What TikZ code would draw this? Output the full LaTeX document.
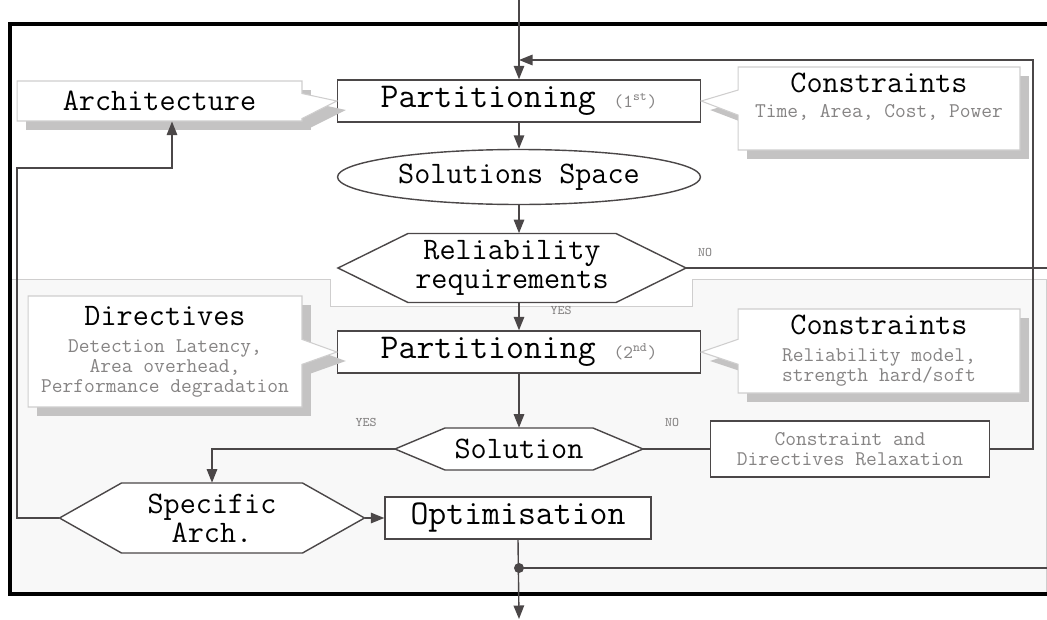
\documentclass[tikz,border=0pt]{standalone}
\usepackage{fontspec}
\newcommand*{\flowfont}{\ttfamily\fontsize{19.8}{21}\selectfont}
\newcommand*{\labelfont}{\ttfamily\fontsize{17.8}{16.5}\selectfont}
\newcommand*{\notefont}{\ttfamily\fontsize{11.9}{11.4}\selectfont}
\newcommand*{\ordfont}{\ttfamily\fontsize{10.5}{11}\selectfont}
\newcommand*{\tinyfont}{\ttfamily\fontsize{7.5}{8}\selectfont}
\newcommand*{\notetext}[1]{{\notefont\color{textgrey}#1}}
\definecolor{regiongrey}{cmyk}{0.00,0.00,0.00,0.03}
\definecolor{edgegrey}{cmyk}{0.00,0.00,0.00,0.22}
\definecolor{shadowgrey}{cmyk}{0.00,0.00,0.00,0.27}
\definecolor{textgrey}{cmyk}{0.00,0.00,0.00,0.55}
\definecolor{linegrey}{cmyk}{0.00,0.00,0.00,0.82}
\usetikzlibrary{arrows.meta}
\usetikzlibrary{shapes.geometric}
\usetikzlibrary{shapes.callouts}
\usetikzlibrary{shadows}
\tikzstyle{flowline}=[draw=linegrey, line width=0.8pt]
\tikzstyle{flowarrow}=[flowline, -{Triangle[length=0.27cm, width=0.21cm]}]
\tikzstyle{flowbox}=[flowline, fill=white, inner sep=0pt, minimum width=7.26cm, minimum height=0.84cm, font=\flowfont]
\tikzstyle{callbox}=[rectangle callout, draw=edgegrey, line width=0.6pt, fill=white, inner sep=0pt, callout pointer width=0.5cm, align=center, font=\notefont, drop shadow={shadow xshift=0.18cm, shadow yshift=-0.18cm, fill=shadowgrey, opacity=1}]
\tikzstyle{hextext}=[inner sep=0pt, align=center, font=\labelfont]
\tikzstyle{answer}=[inner sep=0pt, text=textgrey, font=\tinyfont]
\newcommand*{\hexnode}[6]{%
    \draw[flowline, fill=white] #2 ++(-#3,0) -- ++(#5,-#4) -- ++(2*#3-2*#5,0) -- ++(#5,#4) -- ++(-#5,#4) -- ++(-2*#3+2*#5,0) -- cycle;
    \node[hextext, minimum width=#3*0.04cm, minimum height=#4*0.04cm] (#1) at #2 {#6};}

\begin{document}
\begin{tikzpicture}[x=0.02cm, y=-0.02cm]
    \useasboundingbox (0,0) rectangle (1047,619);
    \draw[edgegrey, fill=regiongrey] (10,279) -- (330,279) -- (330,306) -- (692,306) -- (692,279) -- (1046,279) -- (1046,594) -- (10,594) -- cycle;
    \draw[line width=1.8pt] (1047,24) -- (10,24) -- (10,594) -- (1047,594);

    \coordinate (in) at (519,0);
    \coordinate (out) at (519,619);
    \coordinate (loop) at (1033,60);
    \coordinate (back1) at (17,168);
    \coordinate (back2) at (172,168);
    \coordinate (dot) at (519,568);
    \coordinate (noend) at (1047,268);
    \coordinate (fbend) at (1047,568);

    \node[flowbox] (part1) at (519,101) {Partitioning\hspace{0.36cm}{\ordfont\color{textgrey}(1\textsuperscript{st})}};
    \node[flowbox, ellipse, font=\labelfont, minimum height=1.1cm] (space) at (519,177) {Solutions Space};
    \hexnode{rel}{(512,268)}{174}{34.5}{70}{Reliability\\requirements}
    \node[flowbox] (part2) at (519,352) {Partitioning\hspace{0.36cm}{\ordfont\color{textgrey}(2\textsuperscript{nd})}};
    \hexnode{sol}{(519,449)}{124}{21}{50}{Solution}
    \node[flowbox, minimum width=5.58cm, minimum height=1.12cm, font=\notefont, text=textgrey, align=center] (relax) at (850,449) {Constraint and\\Directives Relaxation};
    \hexnode{spec}{(212,518)}{152.5}{35}{62}{Specific\\Arch.}
    \node[flowbox, minimum width=5.32cm] (optim) at (518,518) {Optimisation};

    \node[callbox, font=\labelfont, minimum width=5.7cm, minimum height=0.8cm, callout absolute pointer={(part1.west)}] (arch) at (159.5,101) {Architecture};
    \node[callbox, minimum width=5.64cm, minimum height=1.66cm, callout absolute pointer={(part1.east)}] (cons1) at (879,108.5) {};
    \node[hextext, font=\notefont] (cons1txt) at (879,97) {{\labelfont Constraints}\\[3pt]\notetext{Time, Area, Cost, Power}};
    \node[callbox, minimum width=5.48cm, minimum height=2.22cm, callout absolute pointer={(part2.west)}] (dirs) at (165,351.5) {{\labelfont Directives}\\[4pt]\notetext{Detection Latency,}\\\notetext{Area overhead,}\\\notetext{Performance degradation}};
    \node[callbox, minimum width=5.64cm, minimum height=1.68cm, callout absolute pointer={(part2.east)}] (cons2) at (879,351) {{\labelfont Constraints}\\[4pt]\notetext{Reliability model,}\\\notetext{strength hard/soft}};

    \node[answer] (no1) at (705,252) {NO};
    \node[answer] (yes1) at (561,310) {YES};
    \node[answer] (yes2) at (366,422) {YES};
    \node[answer] (no2) at (672,422) {NO};

    \draw[flowarrow] (in) -- (part1.north);
    \draw[flowarrow] (part1) -- (space);
    \draw[flowarrow] (space.south) -- (space.south |- rel.north);
    \draw[flowarrow] (rel.south -| part2.north) -- (part2.north);
    \draw[flowline] (rel.east) -- (noend);
    \draw[flowarrow] (part2) -- (sol);
    \draw[flowarrow] (sol.west) -| (spec.north);
    \draw[flowline] (sol.east) -- (relax.west);
    \draw[flowarrow] (relax.east) -| (loop) -- (loop -| part1.north);
    \draw[flowarrow] (spec.east) -- (optim.west);
    \draw[flowarrow] (spec.west) -| (back1) -- (back2) -- (back2 |- arch.south);
    \draw[flowarrow] (optim.south) -- (out);
    \draw[flowline] (dot) -- (fbend);
    \fill[linegrey] (dot) circle (0.1cm);
\end{tikzpicture}
\end{document}
